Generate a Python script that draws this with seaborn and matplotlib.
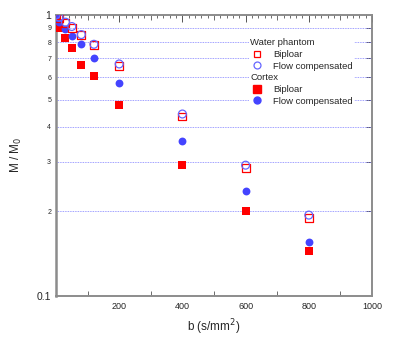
import numpy as np
import pandas as pd
import seaborn as sns
import matplotlib.pyplot as plt
from matplotlib.lines import Line2D
from matplotlib.ticker import FixedLocator, NullFormatter

# values
b_values = [0, 10, 30, 50, 80, 120, 200, 400, 600, 800]
water_biploar = [1.0, 0.973, 0.934, 0.901, 0.847, 0.78, 0.659, 0.435, 0.286, 0.189]
water_flow = [1.0, 0.981, 0.942, 0.909, 0.851, 0.786, 0.669, 0.444, 0.292, 0.194]
cortex_biploar = [1.0, 0.897, 0.83, 0.765, 0.664, 0.607, 0.478, 0.293, 0.20, 0.144]
cortex_flow = [1.0, 0.94, 0.89, 0.844, 0.79, 0.703, 0.574, 0.355, 0.236, 0.156]

y_ticks = [0.1, 0.2, 0.3, 0.4, 0.5, 0.6, 0.7, 0.8, 0.9, 1.0]
y_tick_labels = ["0.1", "2", "3", "4", "5", "6", "7", "8", "9", "1"]
x_ticks = [200, 400, 600, 800, 1000]

red = "#ff0000"
blue = "#4444ff"
spine_gray = "#8c8c8c"

sns.set_style("white")
plt.rcParams['font.family'] = ['Liberation Sans', 'DejaVu Sans']

fig = plt.figure(figsize=(4.0, 3.46), dpi=100)
ax = fig.add_axes([0.14, 0.1445, 0.79, 0.8125])

df = pd.DataFrame({"b": b_values, "wb": water_biploar, "wf": water_flow,
                   "cb": cortex_biploar, "cf": cortex_flow})

ax.set_yscale("log")
sns.scatterplot(data=df, x="b", y="cb", marker="s", s=36, color=red,
                edgecolor=red, linewidth=0, ax=ax, zorder=3)
sns.scatterplot(data=df, x="b", y="cf", marker="o", s=32, color=blue,
                edgecolor=blue, linewidth=0, ax=ax, zorder=3)
sns.scatterplot(data=df, x="b", y="wb", marker="s", s=32, facecolors="none",
                edgecolors=red, linewidth=0.9, ax=ax, zorder=4)
sns.scatterplot(data=df, x="b", y="wf", marker="o", s=32, facecolors="none",
                edgecolors="#6666ff", linewidth=0.9, ax=ax, zorder=4)

ax.set_xlim(0, 1000)
ax.set_ylim(0.1, 1.0)

# y axis: labels at 0.1 .. 1 with dotted grid lines in between
ax.yaxis.set_major_locator(FixedLocator(y_ticks))
ax.set_yticklabels(y_tick_labels)
ax.yaxis.set_minor_formatter(NullFormatter())
ax.yaxis.set_minor_locator(FixedLocator([]))
for lab, val in zip(ax.get_yticklabels(), y_ticks):
    lab.set_fontsize(7.5 if val in (0.1, 1.0) else 5)
for val in y_ticks[1:-1]:
    ax.axhline(val, color="#8080ff", linestyle=(0, (1, 1)), linewidth=0.6, zorder=1)
ax.tick_params(axis="y", which="major", direction="out", length=2.5,
               width=0.7, color="#555555", pad=1)

sec = ax.secondary_yaxis("right")
sec.set_yticks(y_ticks[1:-1])
sec.yaxis.set_minor_locator(FixedLocator([]))
sec.tick_params(direction="in", length=4, width=0.7, color="#555555", labelright=False)
sec.spines["right"].set_color(spine_gray)
sec.spines["right"].set_linewidth(1.2)

# x axis: labelled majors, medium tick at the half, minor every 20
ax.set_xticks(x_ticks)
ax.set_xticklabels([str(v) for v in x_ticks], fontsize=6.5)
ax.xaxis.set_minor_locator(FixedLocator([v for v in range(0, 1001, 20) if v % 100]))
ax.tick_params(axis="x", which="major", direction="in", length=5, width=0.7,
               color="#555555", top=True, pad=4)
ax.tick_params(axis="x", which="minor", direction="in", length=2.5, width=0.6,
               color="#555555", top=True)
for where in ["bottom", "top"]:
    mid = ax.secondary_xaxis(where)
    mid.set_xticks([100, 300, 500, 700, 900])
    mid.xaxis.set_minor_locator(FixedLocator([]))
    mid.tick_params(direction="in", length=3.5, width=0.6, color="#555555",
                    labelbottom=False, labeltop=False)
    mid.spines[where].set_color(spine_gray)
    mid.spines[where].set_linewidth(1.2)

ax.set_xlabel("b (s/mm$^2$)", fontsize=8.5, labelpad=5)
ax.set_ylabel("M / M$_0$", fontsize=8.5, labelpad=9)

for side in ["left", "bottom", "top", "right"]:
    ax.spines[side].set_color(spine_gray)
    ax.spines[side].set_linewidth(1.2)
ax.spines["left"].set_linewidth(1.8)

# legend with group headers
blank = Line2D([], [], linestyle="none")
handles = [
    blank,
    Line2D([], [], marker="s", linestyle="none", markersize=5, markerfacecolor="none",
           markeredgecolor=red, markeredgewidth=0.9),
    Line2D([], [], marker="o", linestyle="none", markersize=5, markerfacecolor="none",
           markeredgecolor="#6666ff", markeredgewidth=0.9),
    blank,
    Line2D([], [], marker="s", linestyle="none", markersize=5.5, markerfacecolor=red,
           markeredgecolor=red),
    Line2D([], [], marker="o", linestyle="none", markersize=5, markerfacecolor=blue,
           markeredgecolor=blue),
]
labels = ["Water phantom", "Biploar", "Flow compensated", "Cortex", "Biploar",
          "Flow compensated"]
leg = ax.legend(handles, labels, loc="upper left", bbox_to_anchor=(0.612, 0.92),
                frameon=True, fontsize=6.8, handlelength=1.5, handletextpad=0.9,
                labelspacing=0.28, borderpad=0.1, borderaxespad=0)
leg.get_frame().set_edgecolor("none")
leg.get_frame().set_facecolor("white")
leg.get_frame().set_alpha(1)
# pull the group headers to the left edge
rows = leg._legend_handle_box.get_children()[0].get_children()
for i in (0, 3):
    rows[i].get_children()[0].width = 0
    rows[i].sep = 0

fig.savefig("out.png", dpi=100)
